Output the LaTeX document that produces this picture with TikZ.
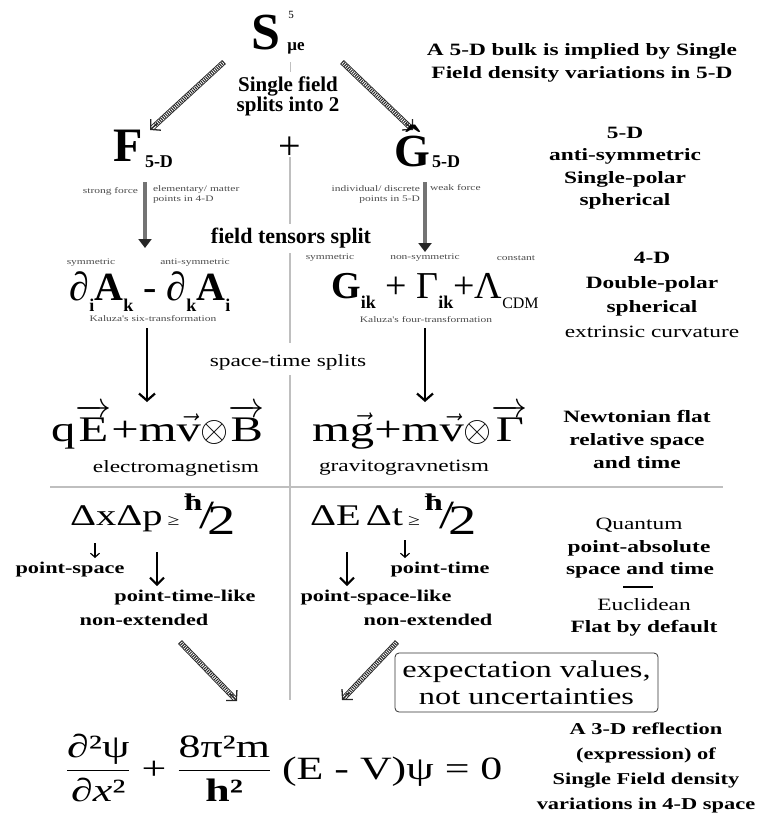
\RequirePackage{fix-cm}
\documentclass[tikz,border=0pt]{standalone}
\usepackage{fontspec}
\usepackage{amsmath}
\setmainfont{Liberation Serif}
\newfontfamily\wf[FakeStretch=1.35]{Liberation Serif}
\usetikzlibrary{arrows.meta,calc}
\newcommand\sbx[2]{\raisebox{-0.28em}{\fontsize{#1}{#1}\selectfont #2}}
\newcommand\vv[1]{\ensuremath{\overrightarrow{\text{#1}}}}
\newcommand\vs[1]{\ensuremath{\vec{\text{#1}}}}
\newcommand\hhalf{\raisebox{0.5em}{\fontsize{24}{24}\selectfont\bfseries ħ}\kern-0.1em\raisebox{-0.1em}{\fontsize{40}{40}\selectfont /}\kern-0.22em\raisebox{-0.3em}{\fontsize{42}{42}\selectfont 2}}
\begin{document}
\begin{tikzpicture}[x=1pt,y=-1pt,every node/.style={inner sep=0pt,outer sep=0pt}]
\tikzset{
  rt/.style={font=\wf\bfseries\fontsize{17.3}{22.5}\selectfont,align=center},
  rtn/.style={font=\wf\fontsize{17.3}{22.5}\selectfont,align=center},
  lbl/.style={font=\wf\bfseries\fontsize{16.5}{20}\selectfont,align=center},
  tinylbl/.style={font=\wf\fontsize{8.5}{10}\selectfont,text=black!70,align=center},
  sepline/.style={draw=black!25,line width=1.5pt},
  garrow/.style={draw=black!55,line width=3.5pt,-{Triangle[length=9pt,width=13pt,color=black!85,fill=black!85]}},
  barrow/.style={draw=black,line width=2.2pt,-{Straight Barb[length=7pt,width=16pt]}},
  sarrow/.style={draw=black,line width=1.2pt,-{Straight Barb[length=4pt,width=9pt]}},
  marrow/.style={draw=black,line width=2pt,-{Straight Barb[length=7pt,width=14pt]}},
  hbase/.style={draw=black!85,line width=0.9pt,double=white,double distance=3.6pt,shorten >=3pt},
  hhatch/.style={draw=black!85,line width=3.6pt,dash pattern=on 1pt off 1.1pt,shorten >=6pt},
  htip/.style={draw=black!85,line width=1.3pt,-{Straight Barb[length=7pt,width=15pt]}},
  exbox/.style={draw=black!80,line width=0.8pt,rounded corners=4pt,minimum width=263pt,minimum height=59pt,align=center,font=\wf\fontsize{24}{27}\selectfont}
}
\useasboundingbox (0,0) rectangle (756,820);

% ---- top: S
\node (S) at (266,33) {\fontsize{52}{52}\selectfont\bfseries S};
\node (Ssup) at (291,15) {\fontsize{11}{11}\selectfont 5};
\node (Ssub) at (296,48) {\fontsize{17}{17}\selectfont\bfseries μe};
\coordinate (Sb) at (290,62); \coordinate (Sc) at (290,72);
\draw[sepline,line width=1pt] (Sb) -- (Sc);
\node[align=center,font=\bfseries\fontsize{21}{20}\selectfont] (split) at (288,96) {Single field\\splits into 2};
\node[rt] (bulk) at (582,63) {A 5-D bulk is implied by Single\\Field density variations in 5-D};

% hatched arrows top
\coordinate (h1s) at (224,62); \coordinate (h1e) at (150,130);
\coordinate (h2s) at (342,62); \coordinate (h2e) at (413,130);
\draw[hbase] (h1s) -- (h1e); \draw[hhatch] (h1s) -- (h1e);
\draw[htip] ($(h1s)!0.9!(h1e)$) -- (h1e);
\draw[hbase] (h2s) -- (h2e); \draw[hhatch] (h2s) -- (h2e);
\draw[htip] ($(h2s)!0.9!(h2e)$) -- (h2e);

% ---- F + G
\node (F) at (128,146) {\fontsize{48}{48}\selectfont\bfseries F};
\node (Fsub) at (159,162) {\fontsize{18}{18}\selectfont\bfseries 5-D};
\node (plus) at (290,148) {\fontsize{40}{40}\selectfont +};
\node (G) at (412,146) {\fontsize{46}{46}\selectfont\bfseries \^G};
\node (Gsub) at (446,162) {\fontsize{18}{18}\selectfont\bfseries 5-D};
\node[rt] (b5) at (625,168) {5-D\\anti-symmetric\\Single-polar\\spherical};

\coordinate (fa) at (145,182); \coordinate (fb) at (145,248);
\coordinate (ga) at (425,182); \coordinate (gb) at (425,252);
\draw[garrow] (fa) -- (fb);
\draw[garrow] (ga) -- (gb);
\node[tinylbl,anchor=east] (strong) at (138,191) {strong force};
\node[tinylbl,anchor=west,align=left] (elem) at (153,194) {elementary/ matter\\points in 4-D};
\node[tinylbl,anchor=east,align=right] (indiv) at (420,194) {individual/ discrete\\points in 5-D};
\node[tinylbl,anchor=west] (weak) at (430,188) {weak force};
\coordinate (v1a) at (290,157); \coordinate (v1b) at (290,224);
\draw[sepline] (v1a) -- (v1b);
\node[font=\bfseries\fontsize{22}{22}\selectfont] (fts) at (291,238) {field tensors split};

% ---- tensors
\node[tinylbl] (sym1) at (91,263) {symmetric};
\node[tinylbl] (asym) at (195,263) {anti-symmetric};
\node[anchor=base] (lefteq) at (150,300) {\fontsize{40}{40}\selectfont ∂\sbx{18}{\bfseries i}\textbf{A}\sbx{18}{\bfseries k} - ∂\sbx{18}{\bfseries k}\textbf{A}\sbx{18}{\bfseries i}};
\node[tinylbl] (k6) at (153,319) {Kaluza's six-transformation};
\node[tinylbl] (sym2) at (330,258) {symmetric};
\node[tinylbl] (nsym) at (425,258) {non-symmetric};
\node[tinylbl] (const) at (516,258) {constant};
\node[anchor=base] (righteq) at (435,298) {\fontsize{38}{38}\selectfont\textbf{G}\sbx{18}{\bfseries ik} + Γ\sbx{18}{\bfseries ik}+Λ\sbx{16}{CDM}};
\node[tinylbl] (k4) at (426,320) {Kaluza's four-transformation};
\node[rt,font=\wf\bfseries\fontsize{17.3}{24.7}\selectfont] (b4) at (652,295) {4-D\\Double-polar\\spherical\\{\mdseries extrinsic curvature}};
\coordinate (v2a) at (290,253); \coordinate (v2b) at (290,343);
\draw[sepline] (v2a) -- (v2b);

\coordinate (la) at (147,328); \coordinate (lb) at (147,402);
\coordinate (ra) at (425,328); \coordinate (rb) at (425,402);
\draw[barrow] (la) -- (lb);
\draw[barrow] (ra) -- (rb);
\node[rtn] (sts) at (288,362) {space-time splits};
\coordinate (v3a) at (290,375); \coordinate (v3b) at (290,700);
\draw[sepline] (v3a) -- (v3b);

% ---- Newtonian
\node[anchor=base] (qe) at (158,441) {\wf\fontsize{36}{36}\selectfont q\vv{E}+m\vs{v}$\otimes$\vv{B}};
\node[rtn] (emt) at (176,468) {electromagnetism};
\node[anchor=base] (mg) at (420,441) {\wf\fontsize{36}{36}\selectfont m\vs{g}+m\vs{v}$\otimes$\vv{Γ}};
\node[rtn] (ggt) at (404,468) {gravitogravnetism};
\node[rt,font=\wf\bfseries\fontsize{17.3}{23}\selectfont] (newt) at (637,439) {Newtonian flat\\relative space\\and time};

\coordinate (hla) at (50,487); \coordinate (hlb) at (723,487);
\draw[sepline] (hla) -- (hlb);

% ---- Quantum
\node[anchor=base west] (dxdp) at (70,525) {\wf\fontsize{30}{30}\selectfont ΔxΔp\,{\fontsize{16}{16}\selectfont ≥}\,\hhalf};
\node[anchor=base west] (dedt) at (310,525) {\wf\fontsize{30}{30}\selectfont ΔE\,Δt\,{\fontsize{16}{16}\selectfont ≥}\,\hhalf};
\coordinate (q1a) at (95,543); \coordinate (q1b) at (95,558);
\coordinate (q2a) at (157,552); \coordinate (q2b) at (157,586);
\coordinate (q3a) at (347,552); \coordinate (q3b) at (347,586);
\coordinate (q4a) at (405,540); \coordinate (q4b) at (405,558);
\draw[sarrow] (q1a) -- (q1b);
\draw[marrow] (q2a) -- (q2b);
\draw[marrow] (q3a) -- (q3b);
\draw[sarrow] (q4a) -- (q4b);
\node[lbl] (ps) at (70,570) {point-space};
\node[lbl] (ptl) at (185,598) {point-time-like};
\node[lbl] (ne1) at (144,620) {non-extended};
\node[lbl] (pt) at (440,570) {point-time};
\node[lbl] (psl) at (376,598) {point-space-like};
\node[lbl] (ne2) at (428,620) {non-extended};

\node[rtn] (quant) at (639,525) {Quantum};
\node[rt] (pabs) at (639,548) {point-absolute};
\node[rt] (sat) at (640,570) {space and time};
\coordinate (sla) at (623,587); \coordinate (slb) at (653,587);
\draw[black,line width=1.2pt] (sla) -- (slb);
\node[rtn] (eucl) at (644,605) {Euclidean};
\node[rt] (flat) at (644,628) {Flat by default};

% ---- bottom
\coordinate (h3s) at (180,642); \coordinate (h3e) at (237,701);
\coordinate (h4s) at (397,642); \coordinate (h4e) at (342,700);
\draw[hbase] (h3s) -- (h3e); \draw[hhatch] (h3s) -- (h3e);
\draw[htip] ($(h3s)!0.88!(h3e)$) -- (h3e);
\draw[hbase] (h4s) -- (h4e); \draw[hhatch] (h4s) -- (h4e);
\draw[htip] ($(h4s)!0.88!(h4e)$) -- (h4e);
\node[exbox] (exp) at (526.5,682.5) {expectation values,\\not uncertainties};

\node[anchor=base west] (schr) at (66,779) {\wf\fontsize{32.5}{32.5}\selectfont $\dfrac{\text{∂²ψ}}{\text{∂\textit{x}²}}$ + $\dfrac{\text{8π²m}}{\text{\bfseries h²}}$ (E - V)ψ = 0};
\node[rt,font=\wf\bfseries\fontsize{16.6}{25}\selectfont] (refl) at (646,768) {A 3-D reflection\\(expression) of\\Single Field density\\variations in 4-D space};
\end{tikzpicture}
\end{document}
